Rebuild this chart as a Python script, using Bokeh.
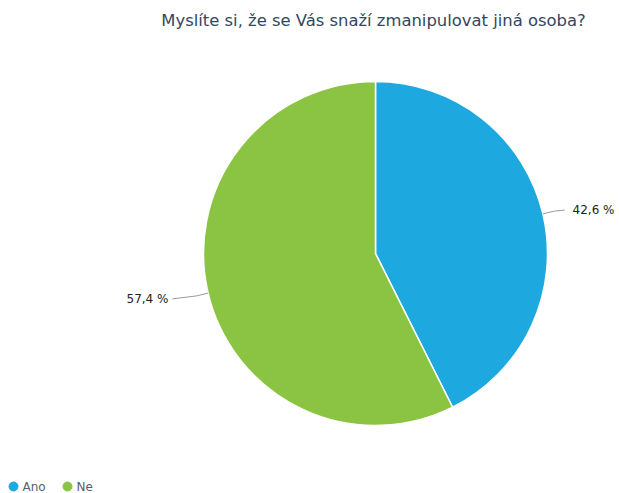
import math
from bokeh.plotting import figure
from bokeh.models import ColumnDataSource, Range1d
from bokeh.core.properties import value
from bokeh.embed import file_html
from bokeh.resources import INLINE

title_text = "Myslíte si, že se Vás snaží zmanipulovat jiná osoba?"
categories = ["Ano", "Ne"]
shares = [42.6, 57.4]
labels = ["42,6 %", "57,4 %"]
colors = ["#1EA8E0", "#8BC443"]

W, H = 619, 493
p = figure(width=W, height=H, output_backend="svg", toolbar_location=None,
           x_range=Range1d(0, W), y_range=Range1d(0, H), min_border=0)
p.axis.visible = False
p.grid.visible = False
p.outline_line_color = None
p.background_fill_color = "white"
p.border_fill_color = "white"

cx, cy, R = 375, 240, 172
total = sum(shares)
starts, ends, mids = [], [], []
cum = 0.0
for s in shares:
    a0 = math.pi / 2 - 2 * math.pi * cum / total
    cum += s
    a1 = math.pi / 2 - 2 * math.pi * cum / total
    starts.append(a0); ends.append(a1); mids.append((a0 + a1) / 2)

src = ColumnDataSource(dict(start=starts, end=ends, color=colors, cat=categories))
p.wedge(x=cx, y=cy, radius=R, start_angle="start", end_angle="end", direction="clock",
        fill_color="color", line_color="white", line_width=1.5, source=src)

# labels with connectors
for lab, m in zip(labels, mids):
    right = math.cos(m) > 0
    ex, ey = cx + R * math.cos(m), cy + R * math.sin(m)
    ox, oy = cx + (R + 12) * math.cos(m), cy + (R + 12) * math.sin(m)
    if right:
        lx, ly = ox + 10, oy + 1
        tx = lx + 8
    else:
        lx, ly = ox - 24, oy - 3
        tx = lx - 4
    p.line([ex, ox, lx], [ey, oy, ly], line_color="#9a9a9a", line_width=1)
    p.text(x=[tx], y=[ly], text=[lab], text_font=value("DejaVu Sans"),
           text_font_size="12px", text_color="#222222", text_baseline="middle",
           text_align="left" if right else "right")

# title
p.text(x=[373], y=[473], text=[title_text], text_font=value("DejaVu Sans"), text_font_size="16.4px",
       text_color="#34475E", text_align="center", text_baseline="middle")

# legend
leg_y = 7
leg_x = [13, 67]
p.scatter(x=leg_x, y=[leg_y] * 2, size=9, color=colors, marker="circle")
p.text(x=[x + 9 for x in leg_x], y=[leg_y] * 2, text=categories, text_font=value("DejaVu Sans"),
       text_font_size="12px", text_color="#555f6b", text_baseline="middle", text_align="left")

open("out.html", "w").write(file_html(p, INLINE))
